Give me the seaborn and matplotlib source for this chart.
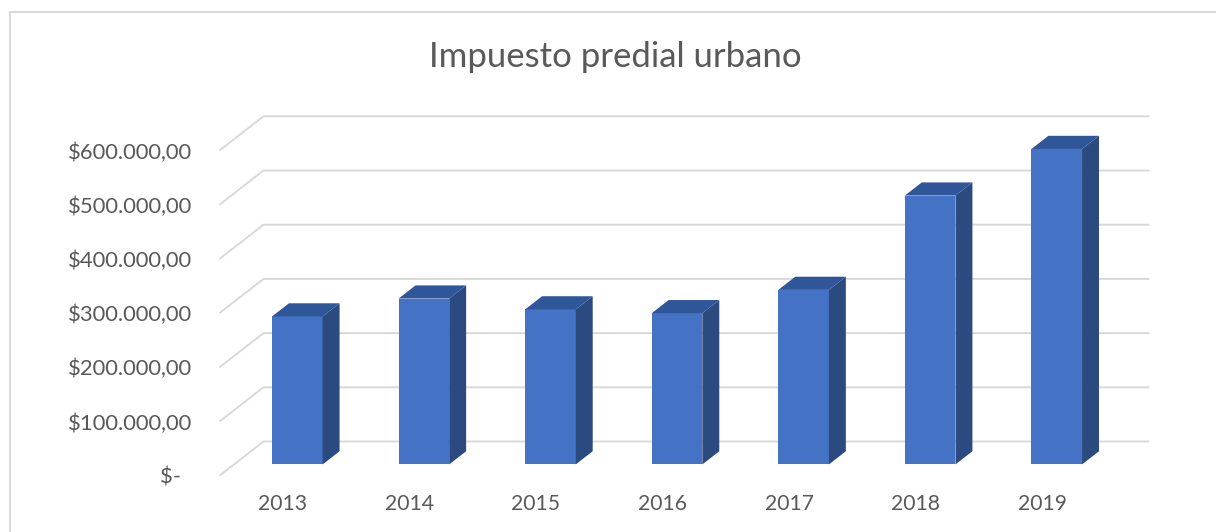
import matplotlib
matplotlib.use("Agg")
import matplotlib.pyplot as plt
import seaborn as sns
import pandas as pd
from matplotlib.patches import Polygon, Rectangle

# ---- data ----
years = ["2013", "2014", "2015", "2016", "2017", "2018", "2019"]
values = [273000, 306000, 286000, 279000, 322000, 496000, 582000]
yticks = [0, 100000, 200000, 300000, 400000, 500000, 600000]
ytick_labels = ["$-  ", "$100.000,00", "$200.000,00", "$300.000,00",
                "$400.000,00", "$500.000,00", "$600.000,00"]
title = "Impuesto predial urbano"

# ---- style ----
FRONT = "#4472C4"
SIDE = "#2B4A80"
TOP = "#30569A"
GRID = "#d9d9d9"
TEXT = "#595959"

sns.set_theme(style="white")
plt.rcParams['font.family'] = ['Lato', 'DejaVu Sans']

W, H = 1216, 532
fig = plt.figure(figsize=(W / 100, H / 100), dpi=100)
fig.patch.set_facecolor("white")

left_px, right_px = 219.5, 1105.5
y0_px, ytop_px = 475.7, 150.5
ax = fig.add_axes([left_px / W, (H - y0_px) / H,
                   (right_px - left_px) / W, (y0_px - ytop_px) / H])

df = pd.DataFrame({"year": years, "value": values})
sns.barplot(data=df, x="year", y="value", ax=ax, color=FRONT,
            width=0.40, saturation=1, linewidth=0, zorder=3)

ax.set_xlim(-0.5, len(years) - 0.5)
ax.set_ylim(yticks[0], yticks[-1])

# oblique depth (one full depth unit)
DX = 44 / 126.57
DY = 34.2 / ((y0_px - ytop_px) / (yticks[-1] - yticks[0]))
d0, d1 = 0.33, 0.715
dd = d1 - d0

# walls / gridlines
xl, xr = ax.get_xlim()
for v in yticks:
    ax.plot([xl, xl + DX, xr + DX], [v, v + DY, v + DY], color=GRID,
            lw=1.4, clip_on=False, zorder=1, solid_capstyle="butt")

# 3D bars from the seaborn patches
for p in list(ax.patches):
    x, y, w, h = p.get_x(), p.get_y(), p.get_width(), p.get_height()
    x += d0 * DX
    y += d0 * DY
    p.set_x(x)
    p.set_y(y)
    p.set_clip_on(False)
    x1 = x + w
    yt = y + h
    side = Polygon([(x1, y), (x1, yt), (x1 + dd * DX, yt + dd * DY),
                    (x1 + dd * DX, y + dd * DY)], closed=True,
                   facecolor=SIDE, edgecolor="none", zorder=3, clip_on=False)
    top = Polygon([(x, yt), (x1, yt), (x1 + dd * DX, yt + dd * DY),
                   (x + dd * DX, yt + dd * DY)], closed=True,
                  facecolor=TOP, edgecolor="none", zorder=3, clip_on=False)
    ax.add_patch(side)
    ax.add_patch(top)

ax.set_yticks(yticks)
ax.set_yticklabels(ytick_labels)
ax.set_xlabel("")
ax.set_ylabel("")
ax.tick_params(axis="y", length=0, pad=19.8, labelsize=15.8, labelcolor=TEXT)
ax.tick_params(axis="x", length=0, pad=13.0, labelsize=15.2, labelcolor=TEXT)
for s in ax.spines.values():
    s.set_visible(False)
ax.set_facecolor("none")
ax.grid(False)

fig.text(615 / W, (H - 66.7) / H, title, ha="center", va="baseline",
         fontsize=25, color=TEXT)

# chart-area border
fig.add_artist(Rectangle((9.5 / W, -0.1), 2.0, (H - 11.5) / H + 0.1,
                         transform=fig.transFigure, fill=False,
                         edgecolor=GRID, lw=1.5))

fig.savefig("out.png", dpi=100, facecolor="white")
